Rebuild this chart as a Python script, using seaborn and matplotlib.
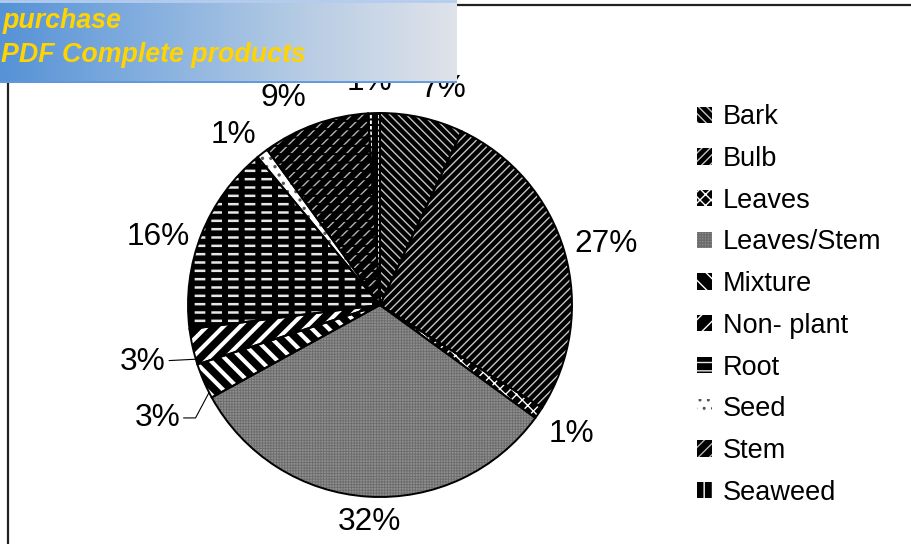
import matplotlib
matplotlib.use("Agg")
import numpy as np
import matplotlib.pyplot as plt
import matplotlib.patches as mpatches
from matplotlib.colors import LinearSegmentedColormap
import seaborn as sns

# Share of remedies by plant part used (percent)
parts = ["Bark", "Bulb", "Leaves", "Leaves/Stem", "Mixture",
         "Non- plant", "Root", "Seed", "Stem", "Seaweed"]
shares = [7, 27, 1, 32, 3, 3, 16, 1, 9, 1]

# Monochrome fill styles, one per slice
faces = ["black", "black", "black", "#8e8e8e", "black",
         "black", "black", "white", "black", "black"]
hatches = ["\\\\\\\\", "////", "xxx", "++++++", "\\\\",
           "//", "--", "..", "///", "||"]
hatch_cols = ["#c4c4c4", "#c4c4c4", "white", "#6c6c6c", "white",
              "white", "#e6e6e6", "#555555", "#b4b4b4", "white"]
hatch_lws = [1.0, 1.0, 1.0, 0.6, 3.0, 3.0, 1.8, 1.2, 1.0, 1.5]
# black overlay that cuts some hatch lines into dashes
breaks = [None, None, None, None, None, None, "|", None, "--", "---"]
break_lws = [0, 0, 0, 0, 0, 0, 4.3, 0, 1.5, 1.5]

# label placement: angle offset from slice middle (deg) and radial distance
label_nudge = [-3.7, -1.1, 0.2, 0.9, 3.5, 0.9, 4.6, 2.9, 5.2, 0.8]
label_dist = [1.17, 1.22, 1.20, 1.13, 1.30, 1.27, 1.21, 1.17, 1.19, 1.165]
# slices whose label is pulled out with a leader line: tip angle offset
leader_tip = {4: 3.7, 5: 3.8}
leader_style = {4: "angle,angleA=0,angleB=62,rad=0", 5: "arc3,rad=0"}

sns.set_theme(style="white")
plt.rcParams["font.family"] = ["Liberation Sans", "DejaVu Sans"]
plt.rcParams["text.color"] = "black"

W, H, DPI = 912, 544, 100
fig = plt.figure(figsize=(W / DPI, H / DPI), dpi=DPI, facecolor="white")

# pie axes: square box so the circle keeps its shape
cx, cy, R = 380, 305, 192
ax = fig.add_axes([(cx - R) / W, (H - cy - R) / H, 2 * R / W, 2 * R / H])

pie_kw = dict(startangle=90, counterclock=False, radius=1)

fill_w, _ = ax.pie(shares, colors=faces, wedgeprops=dict(linewidth=0), **pie_kw)
for w, h, hc, hl in zip(fill_w, hatches, hatch_cols, hatch_lws):
    w.set_hatch(h)
    w.set_edgecolor(hc)
    w.set_linewidth(0)
    if hasattr(w, "set_hatch_linewidth"):
        w.set_hatch_linewidth(hl)

brk_w, _ = ax.pie(shares, colors=["none"] * len(shares),
                  wedgeprops=dict(linewidth=0), **pie_kw)
for w, b, bl in zip(brk_w, breaks, break_lws):
    if b:
        w.set_hatch(b)
        w.set_edgecolor("black")
        w.set_linewidth(0)
        if hasattr(w, "set_hatch_linewidth"):
            w.set_hatch_linewidth(bl)
    else:
        w.set_visible(False)

edge_w, _ = ax.pie(shares, wedgeprops=dict(fill=False, edgecolor="black",
                                           linewidth=1.4), **pie_kw)

# percentage labels
for i, (w, v) in enumerate(zip(edge_w, shares)):
    mid = 0.5 * (w.theta1 + w.theta2)
    a = np.deg2rad(mid + label_nudge[i])
    d = label_dist[i]
    pos = (d * np.cos(a), d * np.sin(a))
    if i in leader_tip:
        t = np.deg2rad(mid + leader_tip[i])
        ax.annotate(f"{v}%", xy=(np.cos(t), np.sin(t)), xytext=pos,
                    ha="center", va="center", fontsize=22.8, color="black",
                    arrowprops=dict(arrowstyle="-", color="black", lw=0.8,
                                    shrinkA=0, shrinkB=0,
                                    connectionstyle=leader_style[i]))
    else:
        ax.text(pos[0], pos[1], f"{v}%", ha="center", va="center",
                fontsize=22.8, color="black")

ax.set_xlim(-1, 1)
ax.set_ylim(-1, 1)
ax.set_aspect("equal")
ax.axis("off")

leg = fig.legend(fill_w, parts, loc="center left",
                 bbox_to_anchor=(697 / W, 1 - 305 / H), frameon=False,
                 fontsize=19.5, handlelength=0.55, handleheight=0.55,
                 handletextpad=0.4, labelspacing=0.58, borderpad=0,
                 borderaxespad=0, labelcolor="black")

# chart area border (only its left and top edges fall inside the canvas)
fig.add_artist(mpatches.Rectangle((8.5 / W, -0.5), 2, (H - 4.5) / H + 0.5,
                                  transform=fig.transFigure, fill=False,
                                  lw=1.6, edgecolor="#222222", zorder=1))

# header banner
bx = fig.add_axes([0, (H - 83) / H, 457 / W, 83 / H])
bx.set_zorder(10)
grad = LinearSegmentedColormap.from_list(
    "banner", ["#5592d6", "#86b0df", "#b7cce4", "#dfe3ea"])
bx.imshow(np.linspace(0, 1, 256)[None, :], cmap=grad, aspect="auto",
          extent=(0, 457, 0, 83))
bx.axhline(82, color="#b4cdee", lw=2)
bx.axhline(1, color="#5f98dc", lw=2)
bx.set_xlim(0, 457)
bx.set_ylim(0, 83)
bx.axis("off")
bx.text(3, 55, "purchase", ha="left", va="baseline", fontsize=19.3,
        fontweight="bold", fontstyle="italic", color="#ffd400")
bx.text(1, 21, "PDF Complete products", ha="left", va="baseline",
        fontsize=19.3, fontweight="bold", fontstyle="italic", color="#ffd400")

fig.savefig("out.png", dpi=DPI, facecolor="white")
